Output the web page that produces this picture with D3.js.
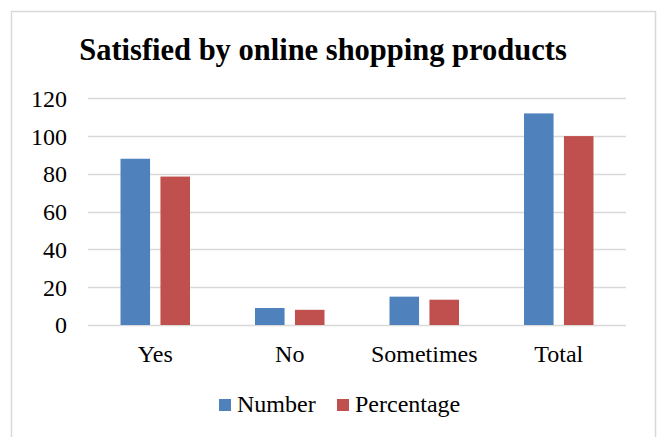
<!DOCTYPE html>
<html>
<head>
<meta charset="utf-8">
<script src="https://cdn.jsdelivr.net/npm/d3@7"></script>
<style>
  html, body { margin: 0; padding: 0; background: #ffffff; }
  svg { display: block; }
  svg text { font-family: "Liberation Serif", "Times New Roman", serif; fill: #000; }
</style>
</head>
<body>
<svg id="chart" width="662" height="437"></svg>
<script>
// Survey answers and counts
const categories = ["Yes", "No", "Sometimes", "Total"];
const seriesNames = ["Number", "Percentage"];
const numberValues = [88, 9, 15, 112];
const percentageValues = [78.57, 8.04, 13.39, 100];
const yTicks = [0, 20, 40, 60, 80, 100, 120];
const seriesColors = ["#4F81BD", "#C0504D"];

const svg = d3.select("#chart");

// chart area frame
svg.append("rect")
  .attr("x", 11.5).attr("y", 11.5)
  .attr("width", 644).attr("height", 440)
  .attr("fill", "#ffffff")
  .attr("stroke", "#d9d9d9").attr("stroke-width", 1.5);

const plot = { left: 88, right: 626, top: 98.3, bottom: 325 };

const x = d3.scaleBand().domain(categories).range([plot.left, plot.right]);
const y = d3.scaleLinear().domain([0, 120]).range([plot.bottom, plot.top]);

// horizontal gridlines
svg.append("g").selectAll("line").data(yTicks).join("line")
  .attr("x1", plot.left).attr("x2", plot.right)
  .attr("y1", d => Math.round(y(d)) + 0.5).attr("y2", d => Math.round(y(d)) + 0.5)
  .attr("stroke", "#d9d9d9").attr("stroke-width", 1.5);

// y-axis labels
const yAxis = d3.axisLeft(y).tickValues(yTicks).tickSize(0).tickPadding(0);
const gy = svg.append("g").attr("transform", "translate(67,0)").call(yAxis)
  .attr("font-family", null).attr("font-size", null);
gy.select(".domain").remove();
gy.selectAll("text").style("font-size", "24px").attr("dy", "0.33em");

// grouped bars
const groupWidth = 69.5;
const x1 = d3.scaleBand().domain(seriesNames).range([0, groupWidth]).paddingInner(0.26).paddingOuter(0);
const rows = categories.map((c, i) => ({ cat: c, vals: [numberValues[i], percentageValues[i]] }));

const groups = svg.append("g").selectAll("g").data(rows).join("g")
  .attr("transform", d => `translate(${x(d.cat) + (x.bandwidth() - groupWidth) / 2},0)`);

groups.selectAll("rect").data(d => d.vals.map((v, j) => ({ s: seriesNames[j], v, j })))
  .join("rect")
  .attr("x", d => x1(d.s))
  .attr("width", x1.bandwidth())
  .attr("y", d => y(d.v))
  .attr("height", d => y(0) - y(d.v))
  .attr("fill", d => seriesColors[d.j]);

// category labels
const xAxis = d3.axisBottom(x).tickSize(0).tickPadding(0);
const gx = svg.append("g").attr("transform", `translate(0,${plot.bottom})`).call(xAxis)
  .attr("font-family", null).attr("font-size", null);
gx.select(".domain").remove();
gx.selectAll("text").style("font-size", "24px").attr("dy", null).attr("y", 37);

// title
svg.append("text")
  .attr("x", 323).attr("y", 60)
  .attr("text-anchor", "middle")
  .style("font-size", "30.5px").style("font-weight", "bold")
  .text("Satisfied by online shopping products");

// legend
const legendPos = [219, 337];
const lg = svg.append("g").selectAll("g").data(seriesNames).join("g")
  .attr("transform", (d, i) => `translate(${legendPos[i]},399)`);
lg.append("rect").attr("width", 12).attr("height", 12).attr("fill", (d, i) => seriesColors[i]);
lg.append("text").attr("x", 18).attr("y", 13)
  .style("font-size", "24px").text(d => d);
</script>
</body>
</html>
